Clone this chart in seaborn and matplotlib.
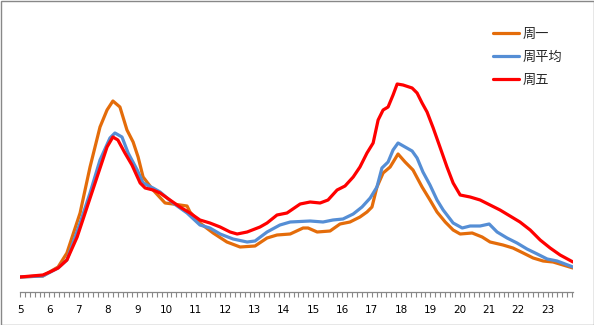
import matplotlib
matplotlib.use("Agg")
import matplotlib.pyplot as plt
import matplotlib.patches as mpatches
from matplotlib.ticker import MultipleLocator
import numpy as np
import pandas as pd
import seaborn as sns

# Hourly traffic profile (hour of day -> relative volume)
mon_hours = [5.00, 5.78, 6.30, 6.60, 7.05, 7.39, 7.73, 7.97, 8.17, 8.41, 8.65, 8.86, 9.03,
             9.20, 9.54, 9.95, 10.22, 10.70, 10.80, 11.14, 11.59, 12.06, 12.51, 13.02,
             13.43, 13.77, 14.22, 14.66, 14.83, 15.14, 15.58, 15.92, 16.26, 16.60, 16.84,
             17.01, 17.18, 17.39, 17.63, 17.90, 18.14, 18.41, 18.72, 18.99, 19.23, 19.51,
             19.78, 20.02, 20.43, 20.77, 21.04, 21.48, 21.82, 22.17, 22.51, 22.85, 23.19,
             23.87]
mon_values = [15, 16, 25, 39, 79, 125, 165, 182, 191, 185, 162, 150, 135,
              115, 102, 89, 88, 86, 80, 69, 59, 50, 45, 46,
              54, 57, 58, 64, 64, 60, 61, 68, 70, 75, 80,
              85, 105, 119, 125, 138, 130, 122, 105, 92, 80, 70,
              62, 58, 59, 55, 50, 47, 44, 39, 34, 31, 30,
              24]

avg_hours = [5.00, 5.78, 6.30, 6.60, 7.05, 7.39, 7.73, 8.07, 8.24, 8.48, 8.69, 9.00, 9.20,
             9.54, 9.78, 10.22, 10.70, 11.14, 11.48, 11.83, 12.27, 12.75, 13.02, 13.43,
             13.87, 14.22, 14.90, 15.34, 15.68, 16.02, 16.37, 16.67, 16.95, 17.18, 17.35,
             17.56, 17.73, 17.90, 18.14, 18.38, 18.55, 18.75, 18.99, 19.23, 19.44, 19.78,
             20.09, 20.36, 20.70, 21.01, 21.28, 21.62, 21.96, 22.30, 22.65, 22.99, 23.33,
             23.87]
avg_values = [15, 16, 24, 32, 69, 99, 132, 154, 159, 155, 139, 122, 109,
              104, 100, 89, 79, 67, 64, 58, 53, 50, 51, 60,
              67, 70, 71, 70, 72, 73, 78, 85, 94, 105, 124,
              130, 142, 149, 145, 141, 134, 120, 107, 92, 82, 69,
              64, 66, 66, 68, 60, 54, 49, 43, 38, 33, 31,
              25]

fri_hours = [5.00, 5.78, 6.02, 6.30, 6.60, 6.95, 7.29, 7.63, 7.97, 8.17, 8.34, 8.58, 8.82,
             9.10, 9.27, 9.54, 9.78, 10.02, 10.46, 10.80, 11.14, 11.48, 11.83, 12.17,
             12.41, 12.75, 13.19, 13.43, 13.77, 14.11, 14.56, 14.90, 15.24, 15.51, 15.82,
             16.09, 16.37, 16.60, 16.84, 17.05, 17.22, 17.39, 17.56, 17.73, 17.87, 18.07,
             18.38, 18.55, 18.72, 18.89, 19.10, 19.33, 19.57, 19.78, 20.02, 20.36, 20.70,
             21.04, 21.38, 21.72, 22.06, 22.41, 22.75, 23.09, 23.43, 23.87]
fri_values = [15, 17, 20, 24, 32, 55, 85, 115, 145, 155, 152, 139, 127,
              109, 104, 102, 99, 94, 85, 79, 72, 69, 65, 60,
              58, 60, 65, 69, 77, 79, 88, 90, 89, 92, 102,
              106, 115, 125, 139, 149, 172, 182, 185, 197, 208, 207,
              204, 199, 189, 180, 164, 145, 125, 109, 97, 95, 92,
              87, 82, 76, 70, 62, 52, 44, 37, 30]

series_names = ["周一", "周平均", "周五"]
colors = {"周一": "#E46C0A", "周平均": "#558ED5", "周五": "#FF0000"}
tick_hours = list(range(5, 24))

df = pd.concat([
    pd.DataFrame({"hour": mon_hours, "value": mon_values, "series": "周一"}),
    pd.DataFrame({"hour": avg_hours, "value": avg_values, "series": "周平均"}),
    pd.DataFrame({"hour": fri_hours, "value": fri_values, "series": "周五"}),
], ignore_index=True)

sns.set_theme(style="white")
plt.rcParams["font.family"] = ["DejaVu Sans"]

fig = plt.figure(figsize=(5.94, 3.25), dpi=100)
ax = fig.add_axes([20 / 594, 33 / 325, 553 / 594, 282 / 325])

sns.lineplot(data=df, x="hour", y="value", hue="series", hue_order=series_names,
             palette=colors, linewidth=2.3, ax=ax, sort=True, legend=False,
             estimator=None)
for ln in ax.get_lines():
    ln.set_solid_joinstyle("round")
    ln.set_solid_capstyle("round")

ax.set_xlim(5, 23.87)
ax.set_ylim(0, 282)
ax.set_xlabel("")
ax.set_ylabel("")
ax.set_yticks([])
ax.xaxis.set_major_locator(MultipleLocator(1))
ax.xaxis.set_minor_locator(MultipleLocator(1 / 6))
ax.set_xticks(tick_hours)
ax.set_xticklabels([str(h) for h in tick_hours], fontsize=7.5, color="black")
ax.tick_params(axis="x", which="both", direction="out", length=3.5, width=0.8,
               color="#888888", bottom=True, pad=6)
for side in ["left", "top", "right"]:
    ax.spines[side].set_visible(False)
ax.spines["bottom"].set_color("#888888")
ax.spines["bottom"].set_linewidth(0.9)
ax.set_facecolor("white")

handles = [plt.Line2D([], [], color=colors[n], linewidth=2.3) for n in series_names]
fig.legend(handles, series_names, loc="upper left",
           bbox_to_anchor=(481 / 594, 1 - 16 / 325), frameon=False,
           prop={"family": ["Noto Sans CJK SC", "DejaVu Sans"], "size": 9.5},
           handlelength=1.95, handletextpad=0.3, labelspacing=0.75)

# thin border around the whole figure
fig.patches.append(mpatches.Rectangle((0.5 / 594, 0.5 / 325), 593 / 594, 324 / 325,
                                      transform=fig.transFigure, fill=False,
                                      edgecolor="#888888", linewidth=1.0))

fig.savefig("out.png", dpi=100, facecolor="white")
